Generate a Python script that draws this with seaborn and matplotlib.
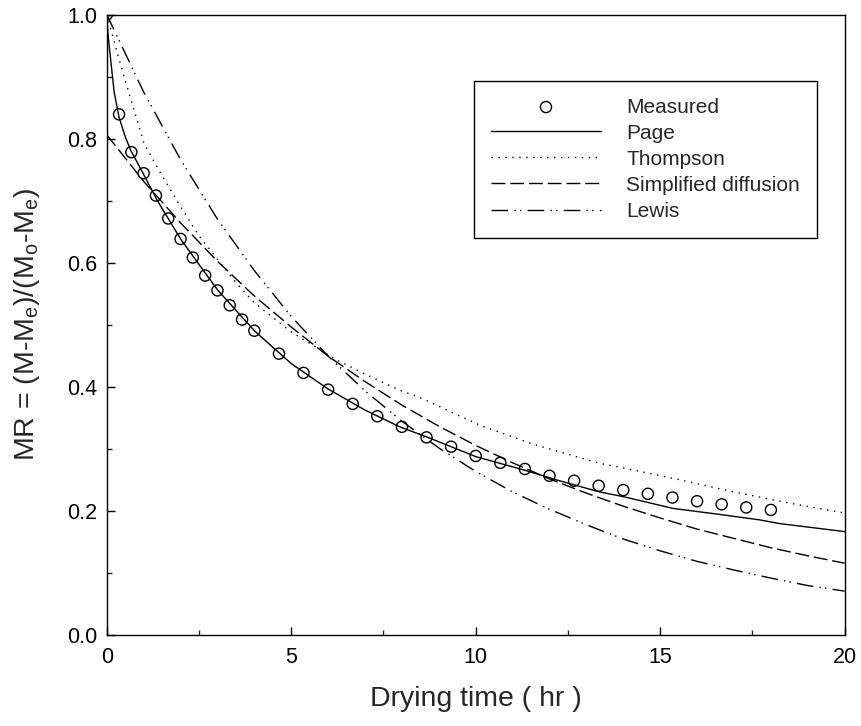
import numpy as np
import pandas as pd
import matplotlib
matplotlib.use("Agg")
import matplotlib.pyplot as plt
import seaborn as sns

# Measured data
t_meas = [0, 0.333, 0.667, 1.0, 1.333, 1.667, 2.0, 2.333, 2.667, 3.0, 3.333, 3.667, 4.0,
          4.667, 5.333, 6.0, 6.667, 7.333, 8.0, 8.667, 9.333, 10.0, 10.667, 11.333, 12.0,
          12.667, 13.333, 14.0, 14.667, 15.333, 16.0, 16.667, 17.333, 18.0]
mr_meas = [1.0, 0.839, 0.778, 0.744, 0.708, 0.671, 0.638, 0.608, 0.579, 0.555, 0.531, 0.508, 0.490,
           0.453, 0.422, 0.395, 0.372, 0.352, 0.335, 0.318, 0.303, 0.288, 0.277, 0.267, 0.256,
           0.248, 0.240, 0.233, 0.227, 0.221, 0.215, 0.210, 0.205, 0.201]

# Page model
t_page = [0, 0.02, 0.05, 0.11, 0.2, 0.33, 0.5, 0.65, 1.0, 1.37, 2.0, 3.0, 4.0, 5.0, 6.0, 7.0,
          7.94, 8.66, 10.0, 11.33, 12.27, 13.36, 14.03, 15.34, 16.7, 17.69, 18.23, 20.0]
mr_page = [1.0, 0.98, 0.958, 0.925, 0.875, 0.835, 0.803, 0.781, 0.742, 0.700, 0.638, 0.556, 0.490,
           0.437, 0.396, 0.362, 0.335, 0.319, 0.287, 0.265, 0.248, 0.230, 0.222, 0.2035, 0.193,
           0.185, 0.179, 0.166]

# Thompson model
t_thom = [0, 0.29, 0.47, 0.74, 1.01, 1.4, 1.73, 2.0, 2.5, 3.07, 3.5, 4.0, 5.0, 6.23, 7.0,
          7.94, 8.46, 10.1, 11.5, 13.36, 13.9, 15.5, 17.0, 18.5, 20.0]
mr_thom = [1.0, 0.937, 0.900, 0.846, 0.792, 0.750, 0.717, 0.690, 0.643, 0.600, 0.568, 0.535, 0.488,
           0.443, 0.420, 0.394, 0.383, 0.338, 0.308, 0.276, 0.270, 0.250, 0.230, 0.212, 0.196]

# Simplified diffusion model
t_sd = [0, 1, 2, 3, 4, 5, 6, 7, 8, 9, 10, 11, 12, 13, 14, 15, 16, 17, 18, 19, 20]
mr_sd = [0.806, 0.731, 0.664, 0.602, 0.546, 0.496, 0.449, 0.408, 0.370, 0.336, 0.305, 0.277,
         0.251, 0.228, 0.207, 0.188, 0.170, 0.155, 0.140, 0.127, 0.115]

# Lewis model
t_lew = [0, 1, 2, 3, 4, 5, 6, 7, 8, 9, 10, 11, 12, 13, 14, 15, 16, 17, 18, 19, 20]
mr_lew = [1.0, 0.875, 0.766, 0.670, 0.587, 0.513, 0.449, 0.393, 0.344, 0.301, 0.263, 0.230,
          0.202, 0.177, 0.154, 0.135, 0.118, 0.104, 0.091, 0.079, 0.070]

x_ticks = [0, 5, 10, 15, 20]
y_ticks = [0.0, 0.2, 0.4, 0.6, 0.8, 1.0]

sns.set_theme(style="ticks")
plt.rcParams['font.family'] = ['Liberation Sans', 'DejaVu Sans']
plt.rcParams['mathtext.fontset'] = 'custom'
plt.rcParams['mathtext.rm'] = 'Liberation Sans'
plt.rcParams['mathtext.it'] = 'Liberation Sans:italic'

fig = plt.figure(figsize=(8.61, 7.26), dpi=100)
ax = fig.add_axes([0.124, 0.126, 0.857, 0.854])

lw = 1.0
sns.lineplot(x=t_page, y=mr_page, ax=ax, color='black', linewidth=lw, linestyle='-',
             label='Page', estimator=None, sort=False)
sns.lineplot(x=t_thom, y=mr_thom, ax=ax, color='black', linewidth=lw, linestyle=(0, (1, 4)),
             label='Thompson', estimator=None, sort=False)
sns.lineplot(x=t_sd, y=mr_sd, ax=ax, color='black', linewidth=lw, linestyle=(0, (10, 3.5)),
             label='Simplified diffusion', estimator=None, sort=False)
sns.lineplot(x=t_lew, y=mr_lew, ax=ax, color='black', linewidth=lw,
             linestyle=(0, (12, 4.5, 1, 3, 1, 4.5)),
             label='Lewis', estimator=None, sort=False)
sns.scatterplot(x=t_meas, y=mr_meas, ax=ax, marker='o', s=64, facecolors='none',
                edgecolor='black', linewidth=1.0, label='Measured', zorder=5)

ax.set_xlim(0, 20)
ax.set_ylim(0, 1.0)
ax.set_xticks(x_ticks)
ax.set_yticks(y_ticks)
ax.set_xticklabels([str(v) for v in x_ticks])
ax.set_yticklabels([f"{v:.1f}" for v in y_ticks])
ax.set_xticks([2.5, 7.5, 12.5, 17.5], minor=True)
ax.set_yticks([0.1, 0.3, 0.5, 0.7, 0.9], minor=True)
ax.tick_params(axis='x', which='major', pad=9)
ax.tick_params(axis='y', which='major', pad=7)
ax.tick_params(which='major', direction='in', length=6, width=1, labelsize=15.5,
               top=False, right=False, colors='black')
ax.tick_params(which='minor', direction='in', length=3.5, width=1, top=False, right=False)
for sp in ax.spines.values():
    sp.set_visible(True)
    sp.set_linewidth(1.0)
    sp.set_color('black')

ax.set_xlabel('Drying time ( hr )', fontsize=20.5, labelpad=13)
ax.set_ylabel(r'MR = (M-M$_\mathrm{e}$)/(M$_\mathrm{o}$-M$_\mathrm{e}$)', fontsize=20.5, labelpad=18)

handles, labels = ax.get_legend_handles_labels()
order = [labels.index(n) for n in ['Measured', 'Page', 'Thompson', 'Simplified diffusion', 'Lewis']]
leg = ax.legend([handles[i] for i in order], [labels[i] for i in order],
                loc='upper right', bbox_to_anchor=(0.962, 0.893), fontsize=15,
                frameon=True, fancybox=False, edgecolor='black', framealpha=1,
                handlelength=5.3, handletextpad=1.2, labelspacing=0.34,
                borderpad=0.8, borderaxespad=0, scatterpoints=1)
leg.get_frame().set_linewidth(1.0)

fig.savefig('out.png', dpi=100, facecolor='white')
